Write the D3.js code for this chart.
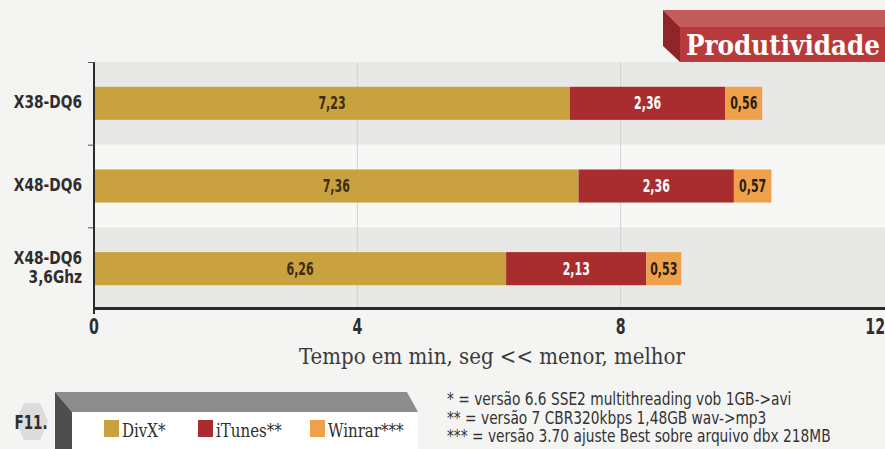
<!DOCTYPE html>
<html><head><meta charset="utf-8">
<script src="https://cdn.jsdelivr.net/npm/d3@7"></script>
<style>
html,body{margin:0;padding:0;background:#f4f4f3;}
svg{display:block;}
</style></head>
<body>
<svg id="c" width="885" height="449"></svg>
<script>
const categories = ["X38-DQ6", "X48-DQ6", "X48-DQ6\n3,6Ghz"];
const seriesNames = ["DivX*", "iTunes**", "Winrar***"];
const divx   = [7.23, 7.36, 6.26];
const itunes = [2.36, 2.36, 2.13];
const winrar = [0.56, 0.57, 0.53];
const xTicks = [0, 4, 8, 12];
const colors = ["#c9a13f", "#a92d2f", "#efa04b"];
const labelColors = ["#3b2c12", "#ffffff", "#2a1c0c"];
const footnotes = [
  "* = versão 6.6 SSE2 multithreading vob 1GB->avi",
  "** = versão 7 CBR320kbps 1,48GB wav->mp3",
  "*** = versão 3.70 ajuste Best sobre arquivo dbx 218MB"
];
const title = "Produtividade";
const axisTitle = "Tempo em min, seg << menor, melhor";
const figLabel = "F11.";

const SANS = '"DejaVu Sans Condensed","DejaVu Sans",sans-serif';
const SERIF = '"DejaVu Serif Condensed","DejaVu Serif",serif';

const svg = d3.select("#c");
const x = d3.scaleLinear().domain([0, 12]).range([94, 884]);
const y = d3.scaleBand().domain(categories).range([62, 310]).padding(0);
const barH = y.bandwidth() * 0.4;

// helper: squeezed text placed at (px,py)
function squeeze(sel, px, py, sx) {
  sel.attr("x", 0).attr("y", 0)
     .attr("transform", (d, i) => `translate(${typeof px === "function" ? px(d, i) : px},${typeof py === "function" ? py(d, i) : py}) scale(${sx},1)`);
  return sel;
}

const series = [divx, itunes, winrar];
const rows = categories.map((c, i) => {
  let acc = 0;
  return series.map((s, k) => { const d = {cat: c, k, v: s[i], x0: acc, x1: acc + s[i]}; acc += s[i]; return d; });
});

// band backgrounds
svg.append("g").selectAll("rect").data(categories).join("rect")
  .attr("x", x(0)).attr("y", d => y(d)).attr("width", 885 - x(0)).attr("height", y.bandwidth())
  .attr("fill", (d, i) => i % 2 === 0 ? "#e8e8e7" : "#f7f7f6");

// grid lines
svg.append("g").selectAll("line").data(xTicks.filter(t => t > 0 && t < 12)).join("line")
  .attr("x1", d => x(d)).attr("x2", d => x(d)).attr("y1", 62).attr("y2", 308)
  .attr("stroke", "#d2d2d2").attr("stroke-width", 1);

// bars
const g = svg.append("g");
rows.forEach(r => {
  g.selectAll(null).data(r).join("rect")
    .attr("x", d => x(d.x0)).attr("width", d => x(d.x1) - x(d.x0))
    .attr("y", d => y(d.cat) + (y.bandwidth() - barH) / 2).attr("height", barH)
    .attr("fill", d => colors[d.k]);
  const t = g.selectAll(null).data(r).join("text")
    .style("font-family", SANS).style("font-weight", "bold")
    .attr("text-anchor", "middle").attr("font-size", 17)
    .attr("fill", d => labelColors[d.k])
    .text(d => d.v.toFixed(2).replace(".", ","));
  squeeze(t, d => (x(d.x0) + x(d.x1)) / 2, d => y(d.cat) + y.bandwidth() / 2 + 6, 0.72);
});

// y axis
svg.append("line").attr("x1", x(0)).attr("x2", x(0)).attr("y1", 62).attr("y2", 314)
  .attr("stroke", "#2a2a2a").attr("stroke-width", 2);
svg.append("g").selectAll("line").data(categories).join("line")
  .attr("x1", x(0) - 6).attr("x2", x(0)).attr("y1", d => y(d) + 0.5).attr("y2", d => y(d) + 0.5)
  .attr("stroke", "#555").attr("stroke-width", 1);
svg.append("g").selectAll("g").data(categories).join("g")
  .each(function(d) {
    const lines = d.split("\n");
    const cy = y(d) + y.bandwidth() / 2;
    lines.forEach((l, i) => {
      const t = d3.select(this).append("text")
        .style("font-family", SANS).style("font-weight", "bold")
        .attr("text-anchor", "end").attr("font-size", 17).attr("fill", "#2e2e2e").text(l);
      squeeze(t, 82, cy + 5 + (i - (lines.length - 1) / 2) * 19, 0.9);
    });
  });

// x axis
svg.append("line").attr("x1", x(0) - 1).attr("x2", 885).attr("y1", 308.5).attr("y2", 308.5)
  .attr("stroke", "#2a2a2a").attr("stroke-width", 3);
const xt = svg.append("g").selectAll("text").data(xTicks).join("text")
  .style("font-family", SANS).style("font-weight", "bold")
  .attr("font-size", 21).attr("fill", "#2e2e2e")
  .attr("text-anchor", (d, i) => i === xTicks.length - 1 ? "end" : "middle").text(d => d);
squeeze(xt, d => d === 12 ? 885 : x(d), 334, 0.75);

const at = svg.append("text").style("font-family", SERIF)
  .attr("text-anchor", "middle").attr("font-size", 22).attr("fill", "#3a3a3a")
  .text(axisTitle);
squeeze(at, 492, 364, 1.0);

// title box
const tb = svg.append("g");
tb.append("path").attr("d", "M663,10 L885,10 L885,27 L680,27 Z").attr("fill", "#c55c5c");
tb.append("path").attr("d", "M663,10 L680,27 L680,62 L663,46 Z").attr("fill", "#8f2527");
tb.append("rect").attr("x", 680).attr("y", 27).attr("width", 205).attr("height", 35).attr("fill", "#b93a3b");
const tt = tb.append("text").style("font-family", SERIF).style("font-weight", "bold")
  .attr("text-anchor", "middle").attr("font-size", 28).attr("fill", "#ffffff").text(title);
squeeze(tt, 783, 55, 0.98);

// legend box
const lg = svg.append("g");
lg.append("path").attr("d", "M55,392 L407,392 L418,412 L72,412 Z").attr("fill", "#8d8d8d");
lg.append("path").attr("d", "M55,392 L72,412 L72,449 L55,449 Z").attr("fill", "#4e4e4e");
lg.append("rect").attr("x", 72).attr("y", 412).attr("width", 346).attr("height", 37).attr("fill", "#ffffff");
const legX = [104, 198, 310];
lg.selectAll(".sw").data(seriesNames).join("rect").attr("class", "sw")
  .attr("x", (d, i) => legX[i]).attr("y", 420).attr("width", 15).attr("height", 17)
  .attr("fill", (d, i) => colors[i]);
const lt = lg.selectAll(".lt").data(seriesNames).join("text").attr("class", "lt")
  .style("font-family", SERIF).attr("font-size", 19).attr("fill", "#2e2e2e")
  .text(d => d);
squeeze(lt, (d, i) => legX[i] + 18, 437, 0.88);

// F11 hexagon
const hx = svg.append("g");
hx.append("path").attr("d", "M24,403 L40,403 L48,421 L40,440 L24,440 L16,421 Z").attr("fill", "#dcdcdc");
const ht = hx.append("text").style("font-family", SANS).style("font-weight", "bold")
  .attr("text-anchor", "middle").attr("font-size", 20).attr("fill", "#2e2e2e").text(figLabel);
squeeze(ht, 31, 429, 0.75);

// footnotes
const ft = svg.append("g").selectAll("text").data(footnotes).join("text")
  .style("font-family", SANS).style("font-weight", "normal")
  .attr("font-size", 17).attr("fill", "#333").text(d => d);
squeeze(ft, 447, (d, i) => 405 + i * 18.5, 0.9);
</script>
</body></html>
